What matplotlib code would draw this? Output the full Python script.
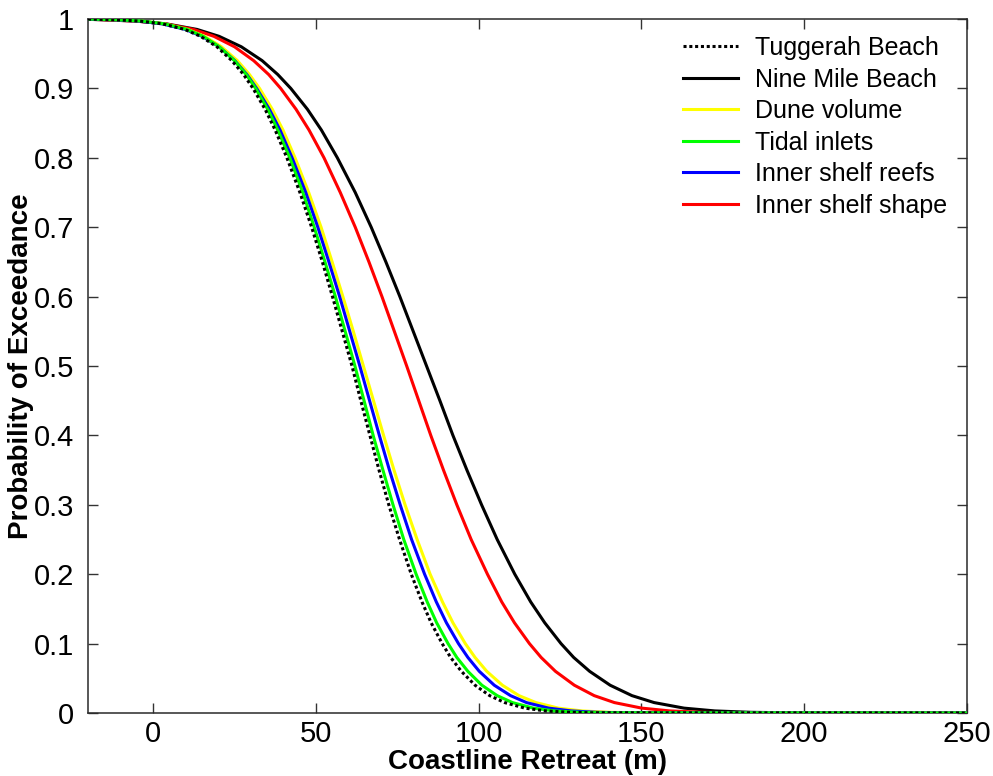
import matplotlib
matplotlib.use("Agg")
import matplotlib.pyplot as plt

plt.rcParams['font.family'] = ['Liberation Sans', 'DejaVu Sans']

# Exceedance probability levels (shared by all curves)
prob = [1.0, 0.9995, 0.999, 0.997, 0.993, 0.985, 0.975, 0.96, 0.94, 0.92, 0.9,
        0.87, 0.84, 0.8, 0.75, 0.7, 0.65, 0.6, 0.55, 0.5, 0.45, 0.4, 0.35,
        0.3, 0.25, 0.2, 0.16, 0.13, 0.1, 0.08, 0.06, 0.04, 0.025, 0.015,
        0.007, 0.003, 0.001, 0.0003, 0.0]

# Coastline retreat (m) at each probability level
tuggerah = [-20, -16.9, -12.1, -4.0, 2.9, 9.7, 14.6, 19.6, 24.2, 27.8, 30.7,
            34.4, 37.5, 41.1, 45.1, 48.7, 52.0, 55.1, 58.1, 61.1, 63.8, 66.6, 69.4,
            72.4, 75.7, 79.3, 82.6, 85.4, 88.8, 91.4, 94.7, 98.9, 103.4, 108.0,
            114.2, 120.5, 127.8, 135.2, 250]
nine_mile = [-20, -19.5, -16.4, -5.3, 4.1, 13.5, 20.3, 27.1, 33.5, 38.3, 42.3,
             47.4, 51.7, 56.6, 62.1, 67.0, 71.5, 75.8, 79.9, 84.0, 88.1, 92.1, 96.4,
             100.9, 105.7, 111.1, 116.0, 120.3, 125.3, 129.2, 134.1, 140.4, 147.1, 153.9,
             163.1, 172.5, 183.5, 194.5, 250]
dune_volume = [-20, -17.3, -12.3, -3.8, 3.4, 10.6, 15.8, 21.0, 25.9, 29.6, 32.7,
               36.6, 39.9, 43.6, 47.8, 51.6, 55.0, 58.3, 61.5, 64.6, 67.7, 70.8, 74.0,
               77.4, 81.1, 85.1, 88.9, 92.1, 95.9, 98.9, 102.5, 107.3, 112.4, 117.6,
               124.5, 131.7, 140.0, 148.3, 250]
tidal_inlets = [-20, -16.3, -11.5, -3.4, 3.5, 10.4, 15.4, 20.3, 25.0, 28.6, 31.5,
                35.2, 38.3, 42.0, 46.0, 49.5, 52.8, 56.0, 59.0, 62.0, 64.8, 67.6, 70.6,
                73.7, 77.0, 80.8, 84.2, 87.1, 90.6, 93.3, 96.7, 101.0, 105.7, 110.4,
                116.8, 123.3, 130.9, 138.5, 250]
inner_reefs = [-20, -17.8, -12.8, -4.4, 2.8, 9.9, 15.1, 20.3, 25.1, 28.8, 31.8,
               35.7, 39.0, 42.7, 46.9, 50.6, 54.0, 57.3, 60.4, 63.5, 66.5, 69.5, 72.6,
               75.9, 79.4, 83.4, 87.0, 90.1, 93.8, 96.7, 100.2, 104.8, 109.8, 114.7,
               121.5, 128.4, 136.4, 144.5, 250]
inner_shape = [-20, -19.0, -15.4, -5.1, 3.7, 12.4, 18.7, 25.0, 30.9, 35.5, 39.2,
               43.9, 47.9, 52.5, 57.5, 62.1, 66.3, 70.3, 74.1, 77.9, 81.6, 85.3, 89.2,
               93.3, 97.7, 102.7, 107.1, 111.0, 115.6, 119.2, 123.6, 129.4, 135.5, 141.7,
               150.1, 158.7, 168.8, 178.7, 250]

labels = ['Tuggerah Beach', 'Nine Mile Beach', 'Dune volume',
          'Tidal inlets', 'Inner shelf reefs', 'Inner shelf shape']

xticks = [0, 50, 100, 150, 200, 250]
yticks = [0, 0.1, 0.2, 0.3, 0.4, 0.5, 0.6, 0.7, 0.8, 0.9, 1.0]
ytick_labels = ['0', '0.1', '0.2', '0.3', '0.4', '0.5', '0.6', '0.7', '0.8', '0.9', '1']

fig = plt.figure(figsize=(9.93, 7.76), dpi=100)
ax = fig.add_axes([0.0886, 0.0812, 0.8852, 0.8943])

lw = 2.2
ax.plot(nine_mile, prob, color='black', lw=lw, label=labels[1], zorder=3)
ax.plot(inner_shape, prob, color='#ff0000', lw=lw, label=labels[5], zorder=3)
ax.plot(dune_volume, prob, color='#ffff00', lw=lw, label=labels[2], zorder=3)
ax.plot(inner_reefs, prob, color='#0000ff', lw=lw, label=labels[4], zorder=4)
ax.plot(tidal_inlets, prob, color='#00ff00', lw=lw, label=labels[3], zorder=4)
ax.plot(tuggerah, prob, color='black', lw=lw, linestyle=(0, (1, 0.9)),
        label=labels[0], zorder=5)

ax.set_xlim(-20, 250)
ax.set_ylim(0, 1)
ax.set_xticks(xticks)
ax.set_xticklabels([str(v) for v in xticks])
ax.set_yticks(yticks)
ax.set_yticklabels(ytick_labels)
ax.tick_params(direction='in', length=7, width=1, top=True, right=True,
               labelsize=21, colors='#333333', labelcolor='black')
ax.tick_params(axis='x', pad=5)
ax.tick_params(axis='y', pad=10)
for s in ax.spines.values():
    s.set_linewidth(1.1)
    s.set_color('#2a2a2a')

ax.set_xlabel('Coastline Retreat (m)', fontsize=20, fontweight='bold', labelpad=1)
ax.set_ylabel('Probability of Exceedance', fontsize=20, fontweight='bold', labelpad=0)

handles, labs = ax.get_legend_handles_labels()
order = [labs.index(l) for l in labels]
leg = ax.legend([handles[i] for i in order], [labs[i] for i in order],
                loc='upper right', bbox_to_anchor=(0.995, 0.997), frameon=False,
                fontsize=18, handlelength=2.2, handletextpad=0.7,
                labelspacing=0.30, borderaxespad=0.2)

fig.savefig('out.png', dpi=100)
